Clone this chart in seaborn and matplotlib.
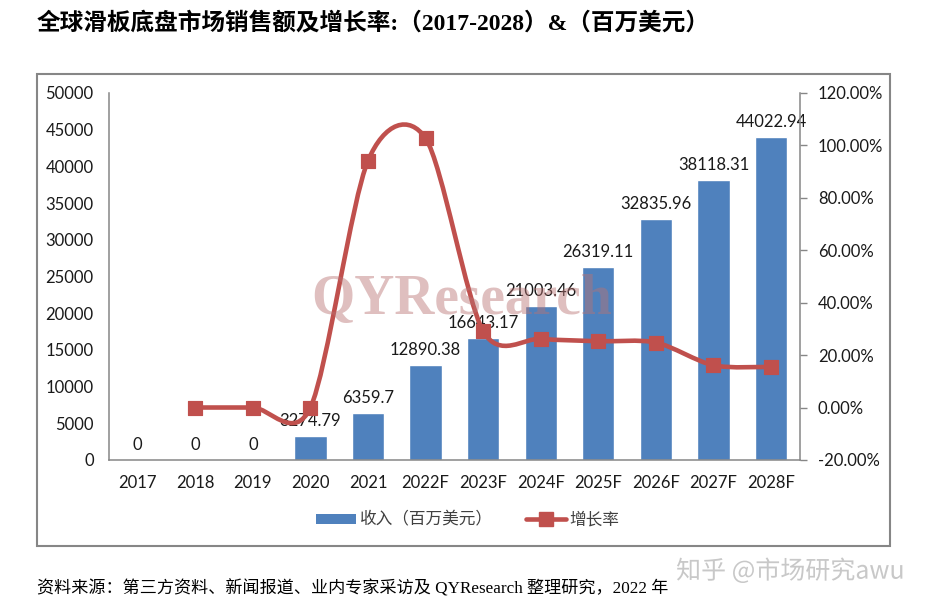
import numpy as np
import pandas as pd
import matplotlib
matplotlib.use("Agg")
import matplotlib.pyplot as plt
import seaborn as sns
from matplotlib.path import Path
from matplotlib.patches import PathPatch, Rectangle, Patch
from matplotlib.lines import Line2D
import matplotlib.patheffects as pe

# data
years = ["2017", "2018", "2019", "2020", "2021", "2022F", "2023F",
         "2024F", "2025F", "2026F", "2027F", "2028F"]
revenue = [0, 0, 0, 3274.79, 6359.7, 12890.38, 16643.17,
           21003.46, 26319.11, 32835.96, 38118.31, 44022.94]
growth = [np.nan, 0.0, 0.0, 0.0, 94.2, 102.7, 29.1,
          26.2, 25.3, 24.8, 16.1, 15.5]          # percent

bar_color = "#4F81BD"
line_color = "#C0504D"
grey = "#868686"
num_font = ["Lato", "DejaVu Sans"]
cjk_font = ["Noto Sans CJK SC", "DejaVu Sans"]

sns.set_theme(style="white")
plt.rcParams["font.family"] = num_font

df = pd.DataFrame({"year": years, "revenue": revenue, "growth": growth})

fig = plt.figure(figsize=(9.26, 6.10), dpi=100)
ax = fig.add_axes([0.1177, 0.246, 0.746, 0.6016])

sns.barplot(data=df, x="year", y="revenue", color=bar_color, saturation=1,
            width=0.56, ax=ax)
ax.set_ylim(0, 50000)
ax.set_yticks(np.arange(0, 50001, 5000))
ax.set_xlabel("")
ax.set_ylabel("")
labels = [f"{v:.2f}".rstrip("0").rstrip(".") for v in revenue]
ax.bar_label(ax.containers[0], labels=labels, padding=5, fontsize=12,
             color="#1a1a1a")
ax.tick_params(axis="y", length=0, pad=11, labelsize=12, labelcolor="#1a1a1a")
ax.tick_params(axis="x", length=0, pad=11, labelsize=12, labelcolor="#1a1a1a")
for s in ["top", "right"]:
    ax.spines[s].set_visible(False)
for s in ["left", "bottom"]:
    ax.spines[s].set_color(grey)
    ax.spines[s].set_linewidth(1.1)
ax.set_xlim(-0.5, len(years) - 0.5)

# growth rate on the secondary axis
ax2 = ax.twinx()
ax2.set_ylim(-20, 120)
ax2.set_yticks(np.arange(-20, 121, 20))
ax2.set_yticklabels([f"{v:.2f}%" for v in np.arange(-20, 121, 20)])
ax2.tick_params(axis="y", length=5, width=1, color=grey, pad=8,
                labelsize=12, labelcolor="#1a1a1a")
for s in ["top", "left", "bottom"]:
    ax2.spines[s].set_visible(False)
ax2.spines["right"].set_color(grey)
ax2.spines["right"].set_linewidth(1.1)
ax2.grid(False)

# smoothed line (Excel-style bezier through the points)
pts = [(i, g) for i, g in enumerate(growth) if not np.isnan(g)]
P = np.array(pts, dtype=float)
verts = [tuple(P[0])]
codes = [Path.MOVETO]
n = len(P)
k = 1 / 7
for i in range(n - 1):
    p0 = P[i - 1] if i > 0 else P[i]
    p1 = P[i]
    p2 = P[i + 1]
    p3 = P[i + 2] if i + 2 < n else P[i + 1]
    c1 = p1 + (p2 - p0) * k
    c2 = p2 - (p3 - p1) * k
    verts += [tuple(c1), tuple(c2), tuple(p2)]
    codes += [Path.CURVE4] * 3
ax2.add_patch(PathPatch(Path(verts, codes), facecolor="none",
                        edgecolor=line_color, lw=3.3, zorder=3))
sns.scatterplot(x=P[:, 0], y=P[:, 1], marker="s", s=110, color=line_color,
                edgecolor=line_color, ax=ax2, zorder=4, legend=False)
ax2.set_xlim(-0.5, len(years) - 0.5)

# watermark
fig.text(0.499, 0.508, "QYResearch", fontsize=40, fontweight="bold",
         family=["Liberation Serif"], color=(0.72, 0.45, 0.45), alpha=0.45,
         ha="center", va="center", zorder=10)

# legend
handles = [Patch(facecolor=bar_color, edgecolor="none"),
           Line2D([0], [0], color=line_color, lw=3.3, marker="s", markersize=10)]
leg = fig.legend(handles, ["收入（百万美元）", "增长率"], loc="center",
                 bbox_to_anchor=(0.505, 0.147), ncol=2, frameon=False,
                 prop={"family": cjk_font, "size": 12}, handlelength=2.4,
                 handleheight=0.6, columnspacing=2.0, handletextpad=0.2)
for t in leg.get_texts():
    t.set_color("#404040")

# outer chart border
fig.patches.append(Rectangle((0.040, 0.105), 0.921, 0.774,
                             transform=fig.transFigure, fill=False,
                             edgecolor=grey, lw=1.5))

# title and source
fig.text(0.040, 0.963, "全球滑板底盘市场销售额及增长率:（2017-2028）&（百万美元）",
         fontsize=17, fontweight="bold",
         family=["Liberation Serif", "Noto Sans CJK SC"],
         ha="left", va="center", color="black")
fig.text(0.040, 0.034, "资料来源：第三方资料、新闻报道、业内专家采访及 QYResearch 整理研究，2022 年",
         fontsize=12.3, family=["Liberation Serif", "Noto Sans CJK SC"],
         ha="left", va="center", color="black")
fig.text(0.977, 0.063, "知乎 @市场研究awu", fontsize=18, family=cjk_font,
         ha="right", va="center", color="#c8c8c8",
         path_effects=[pe.withStroke(linewidth=2, foreground="white")])

fig.savefig("out.png", dpi=100)
